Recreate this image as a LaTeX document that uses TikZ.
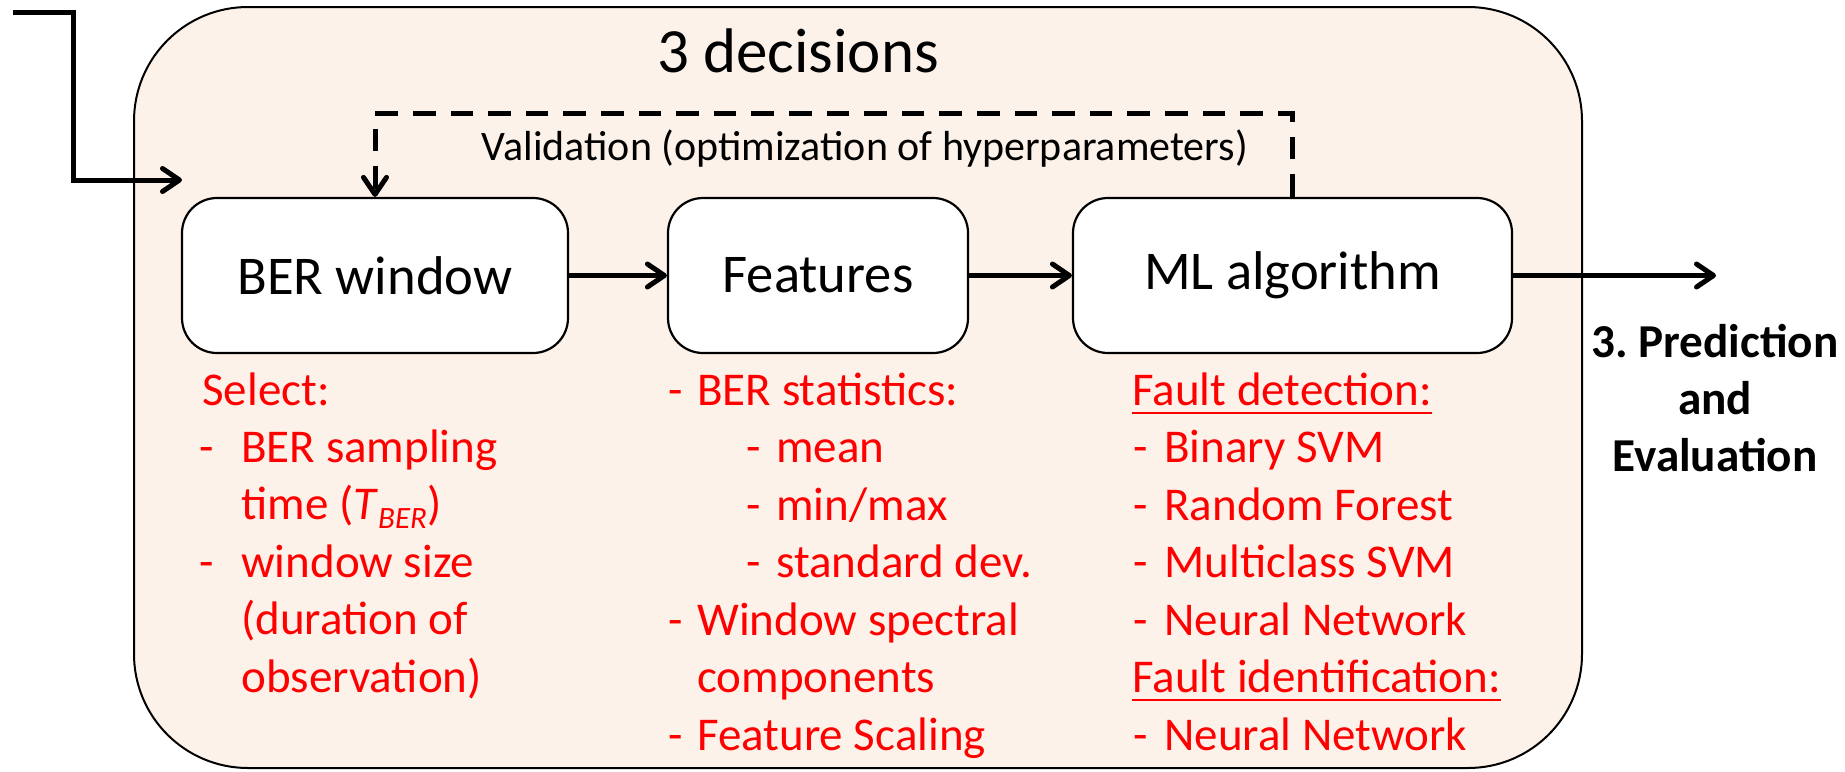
\documentclass[tikz,border=0pt]{standalone}
\usepackage{fontspec}
\setmainfont{Carlito}
\usetikzlibrary{arrows.meta}
\definecolor{bgfill}{RGB}{253,242,234}
\newcommand{\ulin}[1]{\setbox0=\hbox{#1}\rlap{\rule[-4.6pt]{\wd0}{1.3pt}}\box0}
\newcommand{\dsh}[1]{\makebox[#1][l]{-}}
\begin{document}
\begin{tikzpicture}[x=0.5pt,y=-0.5pt,
  stepbox/.style={draw=black, line width=1.1pt, fill=white, rounded corners=17.5pt,
    minimum height=77.5pt, inner sep=0pt, font=\fontsize{27.3}{32}\selectfont},
  conn/.style={line width=2.5pt, -{Straight Barb[length=8.5pt,width=11.5pt,line width=2.5pt,round]}},
  dconn/.style={line width=2.5pt, dash pattern=on 11.3pt off 7.5pt,
    -{Straight Barb[length=8.5pt,width=11.5pt,line width=2.5pt,round]}},
  redt/.style={text=red, font=\fontsize{23.5}{28}\selectfont, anchor=base west, inner sep=0pt},
  boldt/.style={font=\bfseries\fontsize{23.6}{28}\selectfont, anchor=base, inner sep=0pt}
]
\useasboundingbox (0,0) rectangle (1845,771);
% outer container
\node[draw=black, line width=1pt, fill=bgfill, rounded corners=57pt,
  minimum width=724pt, minimum height=380.5pt, inner sep=0pt] (outer) at (858,387.5) {};
\node[anchor=base, inner sep=0pt, font=\fontsize{31.5}{36}\selectfont] (title) at (798,72) {3 decisions};
\node[anchor=base, inner sep=0pt, font=\fontsize{21}{25}\selectfont] (valid) at (865,160) {Validation (optimization of hyperparameters)};
% boxes
\node[stepbox, minimum width=193pt] (ber) at (375,275.5) {BER window};
\node[stepbox, minimum width=150pt] (feat) at (818,275.5) {Features};
\node[stepbox, minimum width=219.5pt] (ml) at (1292.5,275.5) {ML algorithm};
% input arrow
\coordinate (inS) at (13,12);
\coordinate (inC) at (73,180);
\coordinate (inT) at (182,180);
\draw[conn] (inS) -| (inC) -- (inT);
% flow arrows
\draw[conn] (ber.east) -- (feat.west);
\draw[conn] (feat.east) -- (ml.west);
\coordinate (outT) at (1716,275.5);
\draw[conn] (ml.east) -- (outT);
% validation loop
\draw[dconn] (ml.north) -- ++(0,-83) -| (ber.north);
% output label
\node[boldt] (p1) at (1715,357) {3.\ Prediction};
\node[boldt] (p2) at (1715,414) {and};
\node[boldt] (p3) at (1715,471) {Evaluation};
% left column
\node[redt] (l1) at (202,405) {Select:};
\node[redt] (l2) at (199,462) {\dsh{21pt}BER sampling};
\node[redt] (l3) at (241,519) {time (\textit{T}\raisebox{-4.5pt}{\fontsize{15.5}{16}\selectfont\itshape BER})};
\node[redt] (l4) at (199,577) {\dsh{21pt}window size};
\node[redt] (l5) at (241,634) {(duration of};
\node[redt] (l6) at (241,692) {observation)};
% middle column
\node[redt] (m1) at (668,405) {\dsh{14.5pt}BER statistics:};
\node[redt] (m2) at (746,462) {\dsh{15pt}mean};
\node[redt] (m3) at (746,520) {\dsh{15pt}min/max};
\node[redt] (m4) at (746,577) {\dsh{15pt}standard dev.};
\node[redt] (m5) at (668,635) {\dsh{14.5pt}Window spectral};
\node[redt] (m6) at (697,692) {components};
\node[redt] (m7) at (668,750) {\dsh{14.5pt}Feature Scaling};
% right column
\node[redt] (r1) at (1132,405) {\ulin{Fault detection:}};
\node[redt] (r2) at (1133,462) {\dsh{15.5pt}Binary SVM};
\node[redt] (r3) at (1133,520) {\dsh{15.5pt}Random Forest};
\node[redt] (r4) at (1133,577) {\dsh{15.5pt}Multiclass SVM};
\node[redt] (r5) at (1133,635) {\dsh{15.5pt}Neural Network};
\node[redt] (r6) at (1132,692) {\ulin{Fault identification:}};
\node[redt] (r7) at (1133,750) {\dsh{15.5pt}Neural Network};
\end{tikzpicture}
\end{document}
